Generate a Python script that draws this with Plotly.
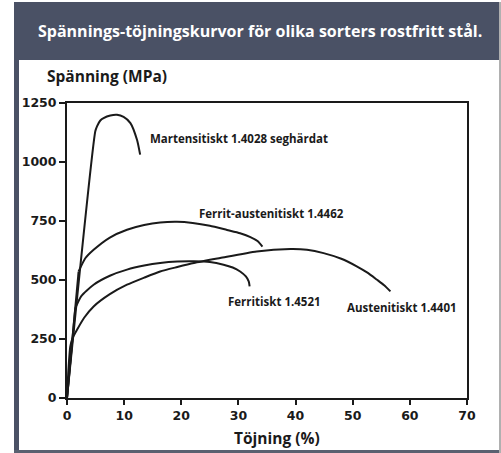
import plotly.graph_objects as go

# ---- data ----
mart_x = [0, 4.95, 5.25, 5.83, 6.4, 7.58, 8.75, 9.9, 11.1, 12.25, 12.8]
mart_y = [0, 1130, 1151, 1176, 1186, 1197, 1200, 1191, 1165, 1094, 1031]

duplex_x = [0, 2.03, 3.2, 4.66, 7.5, 10.5, 13.5, 16.3, 19.25, 22.0, 25.0, 28.0, 30.3, 32.1, 33.4, 34.2]
duplex_y = [0, 536, 592, 628, 680, 713, 733, 744, 747, 742, 730, 712, 698, 682, 664, 641]

ferr_x = [0, 1.45, 2.5, 4.66, 7.5, 10.5, 13.5, 16.3, 19.3, 22.2, 25.0, 27.4, 29.0, 30.3, 31.3, 31.8, 31.96]
ferr_y = [0, 381, 432, 480, 518, 544, 561, 572, 578, 579, 576, 565, 553, 536, 515, 494, 473]

aust_x = [0, 0.25, 0.58, 1.0, 1.75, 3.0, 4.66, 7.5, 10.5, 13.5, 16.3, 19.3, 22.2, 26.8, 33.2, 39.1,
          42.0, 44.9, 48.0, 50.7, 52.5, 54.25, 55.5, 56.6]
aust_y = [0, 120, 219, 255, 289, 340, 388, 440, 480, 510, 536, 555, 572, 593, 621, 631,
          628, 614, 590, 558, 532, 501, 478, 452]

x_ticks = [0, 10, 20, 30, 40, 50, 60, 70]
y_ticks = [0, 250, 500, 750, 1000, 1250]

labels = ["Martensitiskt 1.4028 seghärdat", "Ferrit-austenitiskt 1.4462",
          "Ferritiskt 1.4521", "Austenitiskt 1.4401"]
label_x = [14.2, 22.75, 27.9, 48.7]
label_y = [1099, 781, 409, 383]

title = "Spännings-töjningskurvor för olika sorters rostfritt stål."
y_title = "Spänning (MPa)"
x_title = "Töjning (%)"

FONT = "Open Sans"
HEADER = "#4a5165"
INK = "#1a1a1a"


def add_line(xs, ys, shape):
    fig.add_trace(go.Scatter(x=xs, y=ys, mode="lines",
                             line=dict(color=INK, width=2, shape=shape, smoothing=0.6),
                             hoverinfo="skip", showlegend=False))


fig = go.Figure()
add_line(mart_x, mart_y, "spline")
add_line(aust_x, aust_y, "spline")
for xs, ys in [(duplex_x, duplex_y), (ferr_x, ferr_y)]:
    add_line(xs[:2], ys[:2], "linear")
    add_line(xs[1:], ys[1:], "spline")

for t, lx, ly in zip(labels, label_x, label_y):
    fig.add_annotation(x=lx, y=ly, text=t, showarrow=False,
                       xanchor="left", yanchor="middle",
                       font=dict(family=FONT, size=11.5, color=INK, weight="bold"))

fig.add_annotation(xref="paper", yref="paper", x=0.4825, y=1.244, text=title,
                   showarrow=False, xanchor="center", yanchor="middle",
                   font=dict(family=FONT, size=16, color="white", weight="bold"))
fig.add_annotation(xref="paper", yref="paper", x=-0.055, y=1.0915, text=y_title,
                   showarrow=False, xanchor="left", yanchor="middle",
                   font=dict(family=FONT, size=15.5, color=INK, weight="bold"))
fig.add_annotation(xref="paper", yref="paper", x=0.525, y=-0.1356, text=x_title,
                   showarrow=False, xanchor="center", yanchor="middle",
                   font=dict(family=FONT, size=15.5, color=INK, weight="bold"))

shapes = [
    dict(type="rect", xref="paper", yref="paper", x0=-0.1325, x1=1.085, y0=1.1458, y1=1.3424,
         fillcolor=HEADER, line=dict(width=0), layer="below"),
    dict(type="rect", xref="paper", yref="paper", x0=-0.1325, x1=-0.12, y0=-0.1864, y1=1.3424,
         fillcolor=HEADER, line=dict(width=0), layer="below"),
    dict(type="rect", xref="paper", yref="paper", x0=-0.1325, x1=1.085, y0=-0.1864, y1=-0.1763,
         fillcolor="#5a6070", line=dict(width=0), layer="below"),
    dict(type="rect", xref="paper", yref="paper", x0=1.08, x1=1.085, y0=-0.1864, y1=1.3424,
         fillcolor="#b0b0b0", line=dict(width=0), layer="below"),
]

fig.update_layout(
    width=501, height=453,
    margin=dict(l=67, r=34, t=103, b=55),
    paper_bgcolor="white", plot_bgcolor="white",
    shapes=shapes,
    font=dict(family=FONT, color=INK),
)
tick_font = dict(family="DejaVu Sans", size=12.5, color=INK, weight="bold")
fig.update_xaxes(range=[0, 70], tickvals=x_ticks,
                 showgrid=False, zeroline=False, showline=True, linecolor=INK, linewidth=2,
                 mirror=True, ticks="outside", ticklen=5, tickwidth=2, tickcolor=INK,
                 tickfont=tick_font)
fig.update_yaxes(range=[0, 1250], tickvals=y_ticks,
                 showgrid=False, zeroline=False, showline=True, linecolor=INK, linewidth=2,
                 mirror=True, ticks="outside", ticklen=6, tickwidth=2, tickcolor=INK,
                 tickfont=tick_font)

fig.write_html("out.html", config={"displayModeBar": False},
               post_script="document.body.style.margin='0';document.body.style.padding='0';")
